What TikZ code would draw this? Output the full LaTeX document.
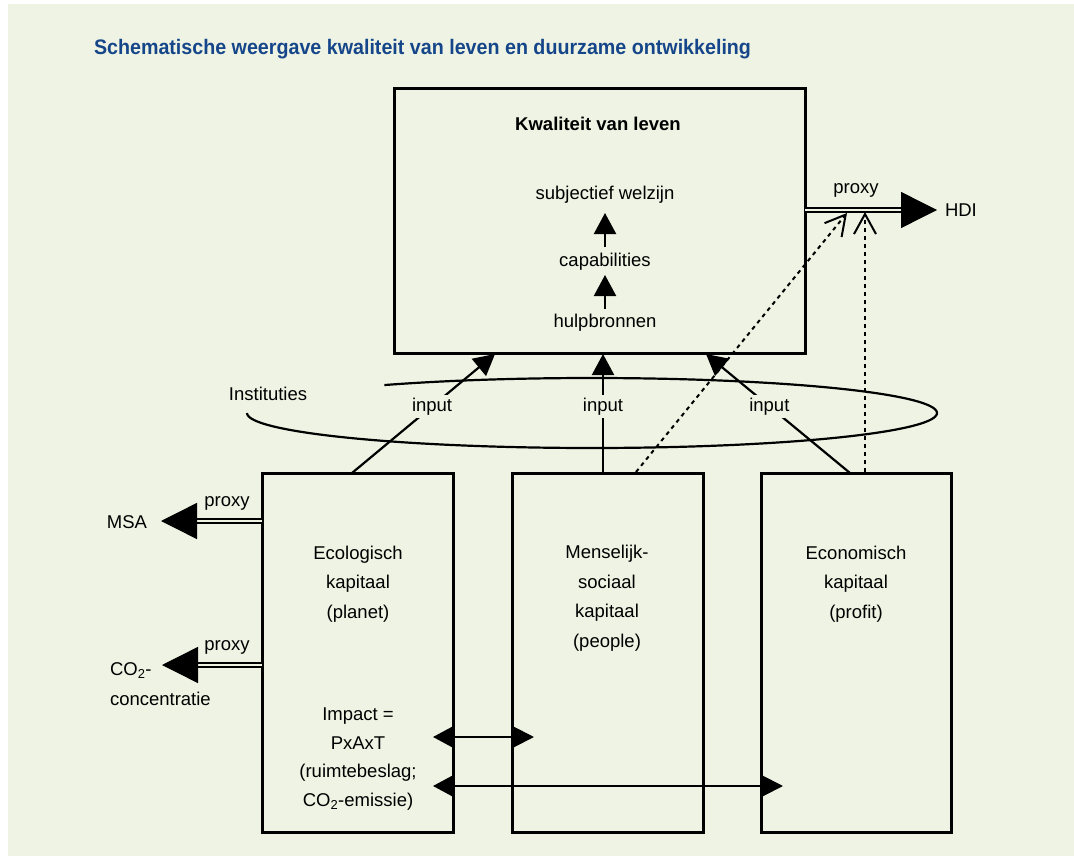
\documentclass[tikz,border=0pt]{standalone}
\usepackage{fontspec}
\usepackage{graphicx}
\setmainfont{Liberation Sans}
\usetikzlibrary{arrows.meta}
\definecolor{bg}{RGB}{239,243,227}
\definecolor{titleblue}{RGB}{22,70,138}
\begin{document}
\begin{tikzpicture}[x=1pt,y=-1pt,
  every node/.style={font=\fontsize{18.5}{29.5}\selectfont, inner sep=0pt, outer sep=0pt},
  box/.style={draw, line width=3pt, minimum width=#1},
  conn/.style={line width=2.2pt},
  tipsmall/.style={-{Triangle[length=21pt,width=22pt]}},
  proxyline/.style={line width=1.4pt, double=bg, double distance=2.4pt, -{Triangle[length=36pt,width=36pt]}},
  dashconn/.style={line width=2pt, dash pattern=on 4pt off 4pt, -{Straight Barb[length=20pt,width=22pt,line width=2pt]}},
  lbl/.style={fill=bg, inner sep=3pt}]
\useasboundingbox (0,0) rectangle (1074,856);
\fill[white] (0,0) rectangle (1074,856);
\fill[bg] (8,4) rectangle (1074,856);

% title, set slightly condensed
\node[anchor=west, text=titleblue, font=\fontsize{21}{23}\selectfont\bfseries] (title) at (94,49)
  {\resizebox{657pt}{\height}{Schematische weergave kwaliteit van leven en duurzame ontwikkeling}};

% quality of life box
\node[box=411pt, minimum height=264pt] (kvl) at (599.5,221) {};
\node[font=\fontsize{18.5}{20}\selectfont\bfseries] (kvltitle) at (598,124) {Kwaliteit van leven};
\node (subj) at (605,195) {subjectief welzijn};
\node (capab) at (605,262) {capabilities};
\node (hulp) at (605,323) {hulpbronnen};
\coordinate (c1a) at (605,247);
\coordinate (c1b) at (605,213);
\coordinate (c2a) at (605,309);
\coordinate (c2b) at (605,275);
\draw[conn, tipsmall] (c1a) -- (c1b);
\draw[conn, tipsmall] (c2a) -- (c2b);

% capital boxes
\node[box=191pt, minimum height=359pt] (eco) at (357.5,652.5) {};
\node[box=191pt, minimum height=359pt] (mens) at (607.5,652.5) {};
\node[box=190pt, minimum height=359pt] (econ) at (856,652.5) {};

\node[align=center] (ecotxt) at (358,584) {Ecologisch\\kapitaal\\(planet)};
\node[align=center, font=\fontsize{18.5}{28.7}\selectfont] (impact) at (358,759)
  {Impact =\\PxAxT\\(ruimtebeslag;\\CO\textsubscript{2}-emissie)};
\node[align=center] (menstxt) at (607,598) {Menselijk-\\sociaal\\kapitaal\\(people)};
\node[align=center] (econtxt) at (856,584) {Economisch\\kapitaal\\(profit)};

% institutions
\draw[line width=2.2pt] plot[domain=-127:180, samples=160, smooth]
  ({592+345*cos(\x)},{413+35*sin(\x)});
\node (inst) at (268,394) {Instituties};

% inputs
\coordinate (inL0) at (352,473);
\coordinate (inL1) at (495,354);
\coordinate (inM0) at (603,473);
\coordinate (inM1) at (603,354);
\coordinate (inR0) at (850,473);
\coordinate (inR1) at (706,354);
\draw[conn, tipsmall] (inL0) -- node[lbl, pos=0.56] (inputL) {input} (inL1);
\draw[conn, tipsmall] (inM0) -- node[lbl, pos=0.56] (inputM) {input} (inM1);
\draw[conn, tipsmall] (inR0) -- node[lbl, pos=0.56] (inputR) {input} (inR1);

% proxy indicators
\node[anchor=west] (hdi) at (945,210) {HDI};
\draw[proxyline] (kvl.east |- hdi.west) -- ([xshift=-8pt]hdi.west);
\node (pxhdi) at (856,190) {proxy};

\node (msa) at (127,522) {MSA};
\coordinate (msatip) at (161,521);
\draw[proxyline] (eco.west |- msatip) -- (msatip);
\node (pxmsa) at (227,503) {proxy};

\node[align=left, anchor=west] (co2) at (110,684) {CO\textsubscript{2}-\\concentratie};
\coordinate (co2tip) at (162,665);
\draw[proxyline] (eco.west |- co2tip) -- (co2tip);
\node (pxco2) at (227,647) {proxy};

% dashed links to HDI
\coordinate (dm0) at (636,472);
\coordinate (dm1) at (847,213);
\coordinate (de0) at (865,472);
\coordinate (de1) at (865,212);
\draw[dashconn] (dm0) -- (dm1);
\draw[dashconn] (de0) -- (de1);

% impact exchanges
\coordinate (a1l) at (433,737);
\coordinate (a1r) at (534,737);
\coordinate (a2l) at (433,786);
\coordinate (a2r) at (783,786);
\draw[conn, {Triangle[length=21pt,width=22pt]}-{Triangle[length=22pt,width=22pt]}] (a1l) -- (a1r);
\draw[conn, {Triangle[length=21pt,width=22pt]}-{Triangle[length=22pt,width=22pt]}] (a2l) -- (a2r);
\end{tikzpicture}
\end{document}
